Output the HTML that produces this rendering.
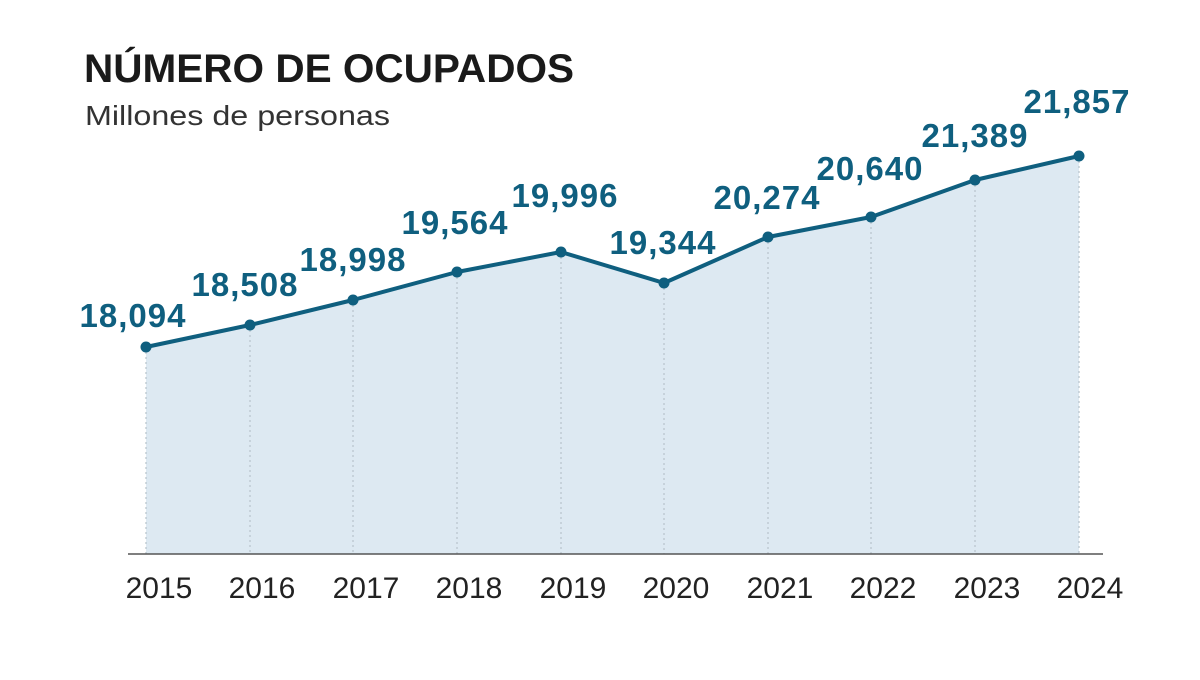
<!DOCTYPE html>
<html><head><meta charset="utf-8"><style>
html,body{margin:0;padding:0;background:#fff;}
body{width:1200px;height:675px;overflow:hidden;}
</style></head><body>
<svg width="1200" height="675" viewBox="0 0 1200 675" xmlns="http://www.w3.org/2000/svg" font-family="'Liberation Sans', sans-serif">
<rect width="1200" height="675" fill="#fff"/>
<text x="84" y="82" font-size="40" font-weight="bold" fill="#1a1a1a" textLength="490" lengthAdjust="spacingAndGlyphs">NÚMERO DE OCUPADOS</text>
<text x="85" y="125" font-size="28" fill="#333" textLength="305" lengthAdjust="spacingAndGlyphs">Millones de personas</text>
<polygon fill="#dde9f2" points="146,554 146,347 250,325 353,300 457,272 561,252 664,283 768,237 871,217 975,180 1079,156 1079,554"/>
<g stroke="#b8c4cc" stroke-width="1.2" stroke-dasharray="2,3">
<line x1="146" y1="347" x2="146" y2="554"/><line x1="250" y1="325" x2="250" y2="554"/>
<line x1="353" y1="300" x2="353" y2="554"/><line x1="457" y1="272" x2="457" y2="554"/>
<line x1="561" y1="252" x2="561" y2="554"/><line x1="664" y1="283" x2="664" y2="554"/>
<line x1="768" y1="237" x2="768" y2="554"/><line x1="871" y1="217" x2="871" y2="554"/>
<line x1="975" y1="180" x2="975" y2="554"/><line x1="1079" y1="156" x2="1079" y2="554"/>
</g>
<line x1="128" y1="554" x2="1103" y2="554" stroke="#555" stroke-width="1.5"/>
<polyline fill="none" stroke="#0f5f7f" stroke-width="4" stroke-linejoin="round" points="146,347 250,325 353,300 457,272 561,252 664,283 768,237 871,217 975,180 1079,156"/>
<g fill="#0f5f7f">
<circle cx="146" cy="347" r="5.5"/><circle cx="250" cy="325" r="5.5"/><circle cx="353" cy="300" r="5.5"/>
<circle cx="457" cy="272" r="5.5"/><circle cx="561" cy="252" r="5.5"/><circle cx="664" cy="283" r="5.5"/>
<circle cx="768" cy="237" r="5.5"/><circle cx="871" cy="217" r="5.5"/><circle cx="975" cy="180" r="5.5"/>
<circle cx="1079" cy="156" r="5.5"/>
</g>
<g fill="#0f5f7f" font-size="33" font-weight="bold" text-anchor="middle" letter-spacing="1">
<text x="133" y="327">18,094</text>
<text x="245" y="296">18,508</text>
<text x="353" y="271">18,998</text>
<text x="455" y="234">19,564</text>
<text x="565" y="207">19,996</text>
<text x="663" y="254">19,344</text>
<text x="767" y="209">20,274</text>
<text x="870" y="180">20,640</text>
<text x="975" y="147">21,389</text>
<text x="1077" y="113">21,857</text>
</g>
<g fill="#222" font-size="30" text-anchor="middle">
<text x="159" y="598">2015</text><text x="262" y="598">2016</text><text x="366" y="598">2017</text>
<text x="469" y="598">2018</text><text x="573" y="598">2019</text><text x="676" y="598">2020</text>
<text x="780" y="598">2021</text><text x="883" y="598">2022</text><text x="987" y="598">2023</text>
<text x="1090" y="598">2024</text>
</g>
</svg>
</body></html>
